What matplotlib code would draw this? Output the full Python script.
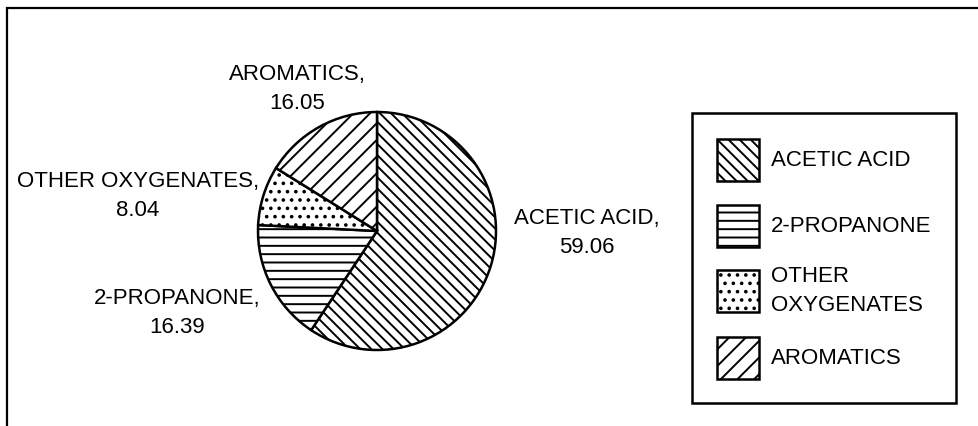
import matplotlib
matplotlib.use("Agg")
import matplotlib.pyplot as plt
from matplotlib.patches import Rectangle

plt.rcParams['font.family'] = ['Liberation Sans', 'DejaVu Sans']
plt.rcParams['hatch.linewidth'] = 1.4
plt.rcParams['hatch.color'] = 'black'

# Composition of the liquid product (wt %)
components = ['ACETIC ACID', '2-PROPANONE', 'OTHER OXYGENATES', 'AROMATICS']
legend_names = ['ACETIC ACID', '2-PROPANONE', 'OTHER\nOXYGENATES', 'AROMATICS']
shares = [59.06, 16.39, 8.04, 16.05]
hatches = ['\\\\\\', '--', '..', '//']

W, H = 979, 426
fig = plt.figure(figsize=(W / 100, H / 100), dpi=100)

# full-figure canvas in pixel units for frame, labels and legend
canvas = fig.add_axes([0, 0, 1, 1])
canvas.set_xlim(0, W)
canvas.set_ylim(H, 0)
canvas.axis('off')

# open frame (left and top edges)
canvas.plot([7, 7, W + 5], [H + 5, 8, 8], color='black', lw=1.6,
            solid_joinstyle='miter', clip_on=False)

# pie
cx, cy, r = 377, 231, 119
pie_ax = fig.add_axes([(cx - r) / W, (H - cy - r) / H, 2 * r / W, 2 * r / H])
wedges, _ = pie_ax.pie(shares, startangle=90, counterclock=False,
                       colors=['white'] * len(shares),
                       wedgeprops=dict(edgecolor='black', linewidth=1.8, clip_on=False))
for w, h in zip(wedges, hatches):
    w.set_hatch(h)
pie_ax.set_xlim(-1, 1)
pie_ax.set_ylim(-1, 1)
pie_ax.set_aspect('equal')

# slice labels
label_pos = [(587, 233), (177, 313), (138, 196), (297, 89)]
for name, val, (x, y) in zip(components, shares, label_pos):
    canvas.text(x, y, f"{name},\n{val:.2f}", ha='center', va='center',
                fontsize=16, linespacing=1.45, color='black')

# legend
canvas.add_patch(Rectangle((692, 113), 264, 290, fill=False,
                           edgecolor='black', lw=1.8))
patch_tops = [139, 205, 270, 337]
for name, h, top in zip(legend_names, hatches, patch_tops):
    canvas.add_patch(Rectangle((717, top), 42, 42, facecolor='white',
                               edgecolor='black', lw=1.8, hatch=h))
    canvas.text(771, top + 21, name, ha='left', va='center',
                fontsize=16, linespacing=1.45, color='black')

fig.savefig('out.png', dpi=100, facecolor='white')
